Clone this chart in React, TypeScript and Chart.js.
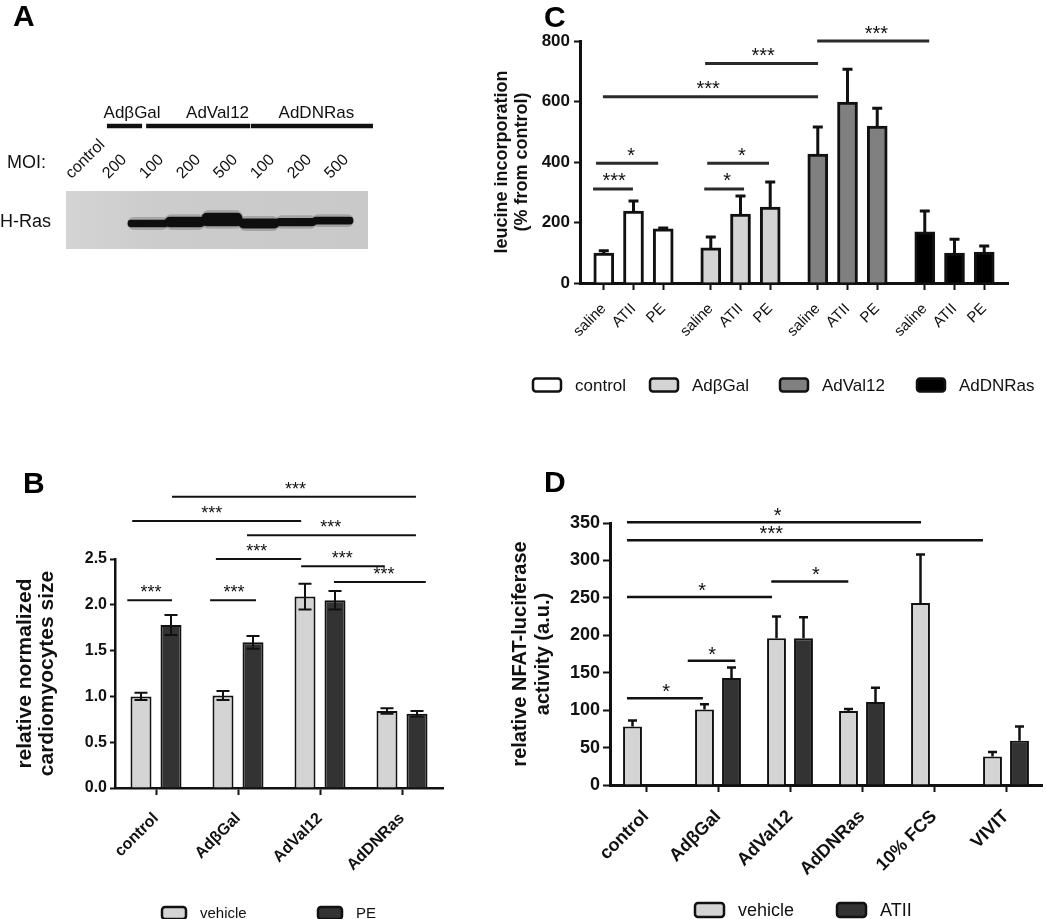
import React, { useEffect, useRef } from 'react';
import { Chart, registerables } from 'chart.js';
Chart.register(...registerables);

const FONT = "'Liberation Sans', Arial, Helvetica, sans-serif";
const INK = '#111111';

// ---------- Panel A (western blot) ----------
const aLanes = ['control', '200', '100', '200', '500', '100', '200', '500'];
const aBandLow = [null, null, 3.8, 3.8, 4.0, 3.6, 4.0, 4.3];
const aBandHigh = [null, null, 5.0, 5.5, 6.2, 5.2, 5.3, 5.5];
const aGroups = ['AdβGal', 'AdVal12', 'AdDNRas'];
const aGroupSpans = [[0.89, 1.84], [1.95, 4.76], [4.78, 8.08]];
const aGroupTextX = [1.57, 3.88, 6.55];

// ---------- Panel B ----------
const bCategories = ['control', 'AdβGal', 'AdVal12', 'AdDNRas'];
const bSeries = ['vehicle', 'PE'];
const bVehicle = [1.0, 1.01, 2.09, 0.84];
const bVehicleErr = [0.04, 0.05, 0.14, 0.03];
const bPE = [1.78, 1.59, 2.05, 0.81];
const bPEErr = [0.11, 0.07, 0.1, 0.03];
const bTicks = [0, 0.5, 1.0, 1.5, 2.0, 2.5];
// [y, x from, x to, label, label x]
const bSig = [
  [3.18, 0.195, 3.17, '***', 1.7],
  [2.915, -0.29, 1.77, '***', 0.68],
  [2.76, 1.11, 3.17, '***', 2.13],
  [2.5, 0.73, 1.77, '***', 1.23],
  [2.42, 1.77, 2.79, '***', 2.27],
  [2.25, 2.17, 3.29, '***', 2.78],
  [2.05, -0.35, 0.195, '***', -0.06],
  [2.05, 0.66, 1.22, '***', 0.95],
];

// ---------- Panel C ----------
const cTreatments = ['saline', 'ATII', 'PE'];
const cGroups = ['control', 'AdβGal', 'AdVal12', 'AdDNRas'];
const cControl = [99, 238, 179];
const cControlErr = [8, 33, 3];
const cAdBGal = [116, 228, 251];
const cAdBGalErr = [36, 60, 83];
const cAdVal12 = [426, 598, 519];
const cAdVal12Err = [90, 109, 59];
const cAdDNRas = [169, 99, 102];
const cAdDNRasErr = [69, 46, 20];
const cSig = [
  [800, 7.18, 10.95, '***', 9.17],
  [726, 3.41, 7.21, '***', 5.36],
  [616, -0.03, 7.21, '***', 3.51],
  [396, -0.26, 1.83, '*', 0.92],
  [311, -0.36, 0.98, '***', 0.35],
  [396, 3.48, 5.56, '*', 4.65],
  [311, 3.38, 4.72, '*', 4.15],
];

// ---------- Panel D ----------
const dCategories = ['control', 'AdβGal', 'AdVal12', 'AdDNRas', '10% FCS', 'VIVIT'];
const dSeries = ['vehicle', 'ATII'];
const dVehicle = [78, 101, 196, 99, 243, 38];
const dVehicleErr = [8, 7, 29, 2.5, 65, 6];
const dATII = [null, 143, 196, 111, null, 59];
const dATIIErr = [null, 14, 28, 19, null, 19];
const dSig = [
  [351, -0.264, 3.82, '*', 1.83],
  [327, -0.264, 4.68, '***', 1.74],
  [251, -0.264, 1.75, '*', 0.78],
  [272, 1.74, 2.81, '*', 2.36],
  [166, 0.58, 1.24, '*', 0.92],
  [116, -0.264, 0.79, '*', 0.28],
];

// ---------- plugins ----------
function errorBars(mode: 'up' | 'both', capW: number, lw: number) {
  return {
    id: 'errbars',
    afterDatasetsDraw(chart: any) {
      const ctx = chart.ctx;
      const ys = chart.scales.y;
      ctx.save();
      ctx.strokeStyle = INK;
      ctx.lineWidth = lw;
      chart.data.datasets.forEach((ds: any, i: number) => {
        if (!ds.errors) return;
        const meta = chart.getDatasetMeta(i);
        meta.data.forEach((el: any, j: number) => {
          const raw = ds.data[j];
          const v = raw != null && typeof raw === 'object' ? raw.y : raw;
          const e = ds.errors[j];
          if (v == null || e == null) return;
          const top = ys.getPixelForValue(v + e);
          const bot = ys.getPixelForValue(mode === 'both' ? v - e : v);
          ctx.beginPath();
          ctx.moveTo(el.x, bot);
          ctx.lineTo(el.x, top);
          ctx.moveTo(el.x - capW / 2, top);
          ctx.lineTo(el.x + capW / 2, top);
          if (mode === 'both') {
            ctx.moveTo(el.x - capW / 2, bot);
            ctx.lineTo(el.x + capW / 2, bot);
          }
          ctx.stroke();
        });
      });
      ctx.restore();
    },
  };
}

function sigLines(items: any[], st: { lw: number; color: string; size: number; dy: number }) {
  return {
    id: 'sig',
    afterDraw(chart: any) {
      const ctx = chart.ctx;
      const xs = chart.scales.x;
      const ys = chart.scales.y;
      ctx.save();
      items.forEach(([y, x1, x2, label, tx]) => {
        const py = ys.getPixelForValue(y);
        ctx.strokeStyle = st.color;
        ctx.lineWidth = st.lw;
        ctx.beginPath();
        ctx.moveTo(xs.getPixelForValue(x1), py);
        ctx.lineTo(xs.getPixelForValue(x2), py);
        ctx.stroke();
        ctx.fillStyle = INK;
        ctx.font = `${st.size}px ${FONT}`;
        ctx.textAlign = 'center';
        ctx.textBaseline = 'alphabetic';
        ctx.fillText(label, xs.getPixelForValue(tx), py - st.dy);
      });
      ctx.restore();
    },
  };
}

function boxLegend(cfg: { xs: number[]; y: number; boxW: number; boxH: number; gap: number; size: number }) {
  return {
    id: 'boxLegend',
    afterDraw(chart: any) {
      const ctx = chart.ctx;
      ctx.save();
      chart.data.datasets.forEach((ds: any, i: number) => {
        const x = cfg.xs[i];
        const y = cfg.y - cfg.boxH / 2;
        ctx.beginPath();
        if (ctx.roundRect) ctx.roundRect(x, y, cfg.boxW, cfg.boxH, 3);
        else ctx.rect(x, y, cfg.boxW, cfg.boxH);
        ctx.fillStyle = ds.backgroundColor;
        ctx.fill();
        ctx.lineWidth = 2.5;
        ctx.strokeStyle = INK;
        ctx.stroke();
        ctx.fillStyle = INK;
        ctx.font = `${cfg.size}px ${FONT}`;
        ctx.textAlign = 'left';
        ctx.textBaseline = 'middle';
        ctx.fillText(ds.label, x + cfg.boxW + cfg.gap, cfg.y + 1);
      });
      ctx.restore();
    },
  };
}

const gelPlugin = {
  id: 'gel',
  beforeDatasetsDraw(chart: any) {
    const { ctx, chartArea: a } = chart;
    ctx.save();
    const g = ctx.createLinearGradient(a.left, 0, a.right, 0);
    g.addColorStop(0, '#d4d4d4');
    g.addColorStop(0.3, '#cccccc');
    g.addColorStop(1, '#c9c9c9');
    ctx.fillStyle = g;
    ctx.fillRect(a.left, a.top, a.right - a.left, a.bottom - a.top);
    ctx.restore();
  },
};

const aLabelsPlugin = {
  id: 'aLabels',
  afterDraw(chart: any) {
    const { ctx, chartArea: a } = chart;
    const xs = chart.scales.x;
    const ys = chart.scales.y;
    ctx.save();
    ctx.strokeStyle = INK;
    ctx.lineWidth = 4.5;
    ctx.fillStyle = INK;
    ctx.font = `17px ${FONT}`;
    ctx.textAlign = 'center';
    ctx.textBaseline = 'middle';
    aGroups.forEach((g, i) => {
      const [s, e] = aGroupSpans[i];
      ctx.beginPath();
      ctx.moveTo(xs.getPixelForValue(s), a.top - 65);
      ctx.lineTo(xs.getPixelForValue(e), a.top - 65);
      ctx.stroke();
      ctx.fillText(g, xs.getPixelForValue(aGroupTextX[i]), a.top - 78);
    });
    ctx.font = `18px ${FONT}`;
    ctx.textAlign = 'left';
    ctx.fillText('MOI:', 7, a.top - 28);
    ctx.fillText('H-Ras', 0, ys.getPixelForValue(4.65));
    ctx.restore();
  },
};

// ---------- shared axis helpers ----------
const gridTicks = (len: number) => ({ drawOnChartArea: false, offset: false, tickLength: len, tickWidth: 2, tickColor: INK });
const border = { color: INK, width: 2.5 };

// ---------- configs ----------
const makeA = (): any => {
  const core: any[] = [];
  const halo: any[] = [];
  aLanes.forEach((_, i) => {
    const lo = aBandLow[i];
    const hi = aBandHigh[i];
    if (lo == null || hi == null) return;
    core.push({ x: i, y: [lo, hi] });
    halo.push({ x: i, y: [lo - 0.45, hi + 0.45] });
  });
  return {
    type: 'bar',
    data: {
      datasets: [
        { label: 'H-Ras', data: core, backgroundColor: '#0e0e0e', grouped: false, barThickness: 40, borderSkipped: false, borderRadius: 5 },
        { label: 'halo', data: halo, backgroundColor: 'rgba(70,70,70,0.28)', grouped: false, barThickness: 41, borderSkipped: false, borderRadius: 7 },
      ],
    },
    options: {
      responsive: false,
      animation: false,
      layout: { padding: { left: 66, right: 92, top: 0, bottom: 51 } },
      plugins: { legend: { display: false }, tooltip: { enabled: false } },
      scales: {
        x: {
          type: 'linear', position: 'top', min: -0.216, max: 7.946, offset: false,
          grid: { display: false, drawTicks: false }, border: { display: false },
          afterBuildTicks: (s: any) => { s.ticks = aLanes.map((_, i) => ({ value: i })); },
          afterFit: (s: any) => { s.height = 191; },
          ticks: { autoSkip: false, minRotation: 45, maxRotation: 45, padding: 8, labelOffset: 8, color: INK, font: { family: FONT, size: 16 }, callback: (_v: any, i: number) => aLanes[i] },
        },
        y: { display: false, min: 0, max: 10 },
      },
    },
    plugins: [gelPlugin, aLabelsPlugin],
  };
};

const makeB = (): any => ({
  type: 'bar',
  data: {
    labels: bCategories,
    datasets: [
      { label: bSeries[0], data: bVehicle, errors: bVehicleErr, backgroundColor: '#d4d4d4', borderColor: INK, borderWidth: 2 },
      { label: bSeries[1], data: bPE, errors: bPEErr, backgroundColor: '#333333', borderColor: INK, borderWidth: 2 },
    ],
  },
  options: {
    responsive: false,
    animation: false,
    layout: { padding: { left: 0, top: 119, right: 17, bottom: 0 } },
    datasets: { bar: { categoryPercentage: 0.732, barPercentage: 0.7 } },
    plugins: { legend: { display: false }, tooltip: { enabled: false } },
    scales: {
      x: {
        offset: true, grid: gridTicks(7), border,
        afterFit: (s: any) => { s.height = 131; },
        ticks: { autoSkip: false, minRotation: 45, maxRotation: 45, padding: 14, color: INK, font: { family: FONT, size: 16, weight: 'bold' } },
      },
      y: {
        min: 0, max: 2.5, grid: gridTicks(5), border,
        afterBuildTicks: (s: any) => { s.ticks = bTicks.map((v) => ({ value: v })); },
        afterFit: (s: any) => { s.width = 115; },
        ticks: { padding: 3, color: INK, font: { family: FONT, size: 16, weight: 'bold' }, callback: (v: any) => Number(v).toFixed(1) },
        title: { display: true, text: ['relative normalized', 'cardiomyocytes size'], color: INK, font: { family: FONT, size: 21, weight: 'bold', lineHeight: 1.05 }, padding: { top: 14, bottom: 0 } },
      },
    },
  },
  plugins: [
    errorBars('both', 13, 2),
    sigLines(bSig, { lw: 2, color: INK, size: 18, dy: 2 }),
    boxLegend({ xs: [162, 318], y: 473, boxW: 24, boxH: 12, gap: 14, size: 15 }),
  ],
});

const cPos = (g: number, i: number) => g * 3.6 + i;
const cData = (vals: number[], g: number) => vals.map((v, i) => ({ x: cPos(g, i), y: v }));

const makeC = (): any => {
  const tickVals: number[] = [];
  const tickLabels: string[] = [];
  cGroups.forEach((_, g) => cTreatments.forEach((t, i) => { tickVals.push(cPos(g, i)); tickLabels.push(t); }));
  const common = { borderColor: INK, borderWidth: 3, grouped: false, barThickness: 20 };
  return {
    type: 'bar',
    data: {
      datasets: [
        { label: cGroups[0], data: cData(cControl, 0), errors: cControlErr, backgroundColor: '#ffffff', ...common },
        { label: cGroups[1], data: cData(cAdBGal, 1), errors: cAdBGalErr, backgroundColor: '#d4d4d4', ...common },
        { label: cGroups[2], data: cData(cAdVal12, 2), errors: cAdVal12Err, backgroundColor: '#808080', ...common },
        { label: cGroups[3], data: cData(cAdDNRas, 3), errors: cAdDNRasErr, backgroundColor: '#000000', ...common },
      ],
    },
    options: {
      responsive: false,
      animation: false,
      layout: { padding: { left: 0, top: 41, right: 42, bottom: 0 } },
      plugins: { legend: { display: false }, tooltip: { enabled: false } },
      scales: {
        x: {
          type: 'linear', min: -0.8, max: 13.6, offset: false,
          grid: gridTicks(7), border: { color: INK, width: 3 },
          afterBuildTicks: (s: any) => { s.ticks = tickVals.map((v) => ({ value: v })); },
          afterFit: (s: any) => { s.height = 157; },
          ticks: { autoSkip: false, minRotation: 45, maxRotation: 45, padding: 10, color: INK, font: { family: FONT, size: 15 }, callback: (_v: any, i: number) => tickLabels[i] },
        },
        y: {
          min: 0, max: 800, grid: gridTicks(6), border: { color: INK, width: 3 },
          afterFit: (s: any) => { s.width = 100; },
          ticks: { stepSize: 200, padding: 4, color: INK, font: { family: FONT, size: 17, weight: 'bold' } },
          title: { display: true, text: ['leucine incorporation', '(% from control)'], color: INK, font: { family: FONT, size: 18, weight: 'bold', lineHeight: 1.1 }, padding: { top: 12, bottom: 0 } },
        },
      },
    },
    plugins: [
      errorBars('up', 10, 3),
      sigLines(cSig, { lw: 3, color: '#2b2b2b', size: 20, dy: 1.5 }),
      boxLegend({ xs: [53, 170, 300, 437], y: 385, boxW: 28, boxH: 13, gap: 14, size: 17 }),
    ],
  };
};

const makeD = (): any => ({
  type: 'bar',
  data: {
    labels: dCategories,
    datasets: [
      { label: dSeries[0], data: dVehicle, errors: dVehicleErr, backgroundColor: '#d4d4d4', borderColor: INK, borderWidth: 2 },
      { label: dSeries[1], data: dATII, errors: dATIIErr, backgroundColor: '#333333', borderColor: INK, borderWidth: 2 },
    ],
  },
  options: {
    responsive: false,
    animation: false,
    layout: { padding: { left: 0, top: 83, right: 8, bottom: 0 } },
    datasets: { bar: { categoryPercentage: 0.75, barPercentage: 0.7 } },
    plugins: { legend: { display: false }, tooltip: { enabled: false } },
    scales: {
      x: {
        offset: true, grid: gridTicks(7), border: { color: INK, width: 3 },
        afterFit: (s: any) => { s.height = 134; },
        ticks: { autoSkip: false, minRotation: 45, maxRotation: 45, padding: 14, color: INK, font: { family: FONT, size: 18, weight: 'bold' } },
      },
      y: {
        min: 0, max: 350, grid: gridTicks(7), border: { color: INK, width: 3 },
        afterFit: (s: any) => { s.width = 130; },
        ticks: { stepSize: 50, padding: 3, color: INK, font: { family: FONT, size: 18, weight: 'bold' } },
        title: { display: true, text: ['relative NFAT-luciferase', 'activity (a.u.)'], color: INK, font: { family: FONT, size: 20, weight: 'bold', lineHeight: 1.15 }, padding: { top: 29, bottom: 0 } },
      },
    },
  },
  plugins: [
    errorBars('up', 9, 2.5),
    sigLines(dSig, { lw: 2.5, color: INK, size: 20, dy: 0 }),
    boxLegend({ xs: [215, 357], y: 470, boxW: 29, boxH: 14, gap: 14, size: 18 }),
  ],
});

function ChartCanvas({ left, top, width, height, make }: { left: number; top: number; width: number; height: number; make: () => any }) {
  const ref = useRef<HTMLCanvasElement>(null);
  useEffect(() => {
    const chart = new Chart(ref.current as HTMLCanvasElement, make());
    return () => chart.destroy();
  }, []);
  return <canvas ref={ref} width={width} height={height} style={{ position: 'absolute', left, top, width, height }} />;
}

const letterStyle = (left: number, top: number): React.CSSProperties => ({
  position: 'absolute', left, top, fontFamily: FONT, fontWeight: 'bold', fontSize: 30, lineHeight: '30px', color: '#000',
});

export default function App() {
  return (
    <div style={{ position: 'absolute', left: 0, top: 0, width: 1050, height: 919, overflow: 'hidden', background: '#fff' }}>
      <ChartCanvas left={0} top={0} width={460} height={300} make={makeA} />
      <ChartCanvas left={480} top={0} width={570} height={440} make={makeC} />
      <ChartCanvas left={0} top={440} width={460} height={479} make={makeB} />
      <ChartCanvas left={480} top={440} width={570} height={479} make={makeD} />
      <div style={letterStyle(13, 1)}>A</div>
      <div style={letterStyle(544, 2)}>C</div>
      <div style={letterStyle(23, 468)}>B</div>
      <div style={letterStyle(544, 467)}>D</div>
    </div>
  );
}
